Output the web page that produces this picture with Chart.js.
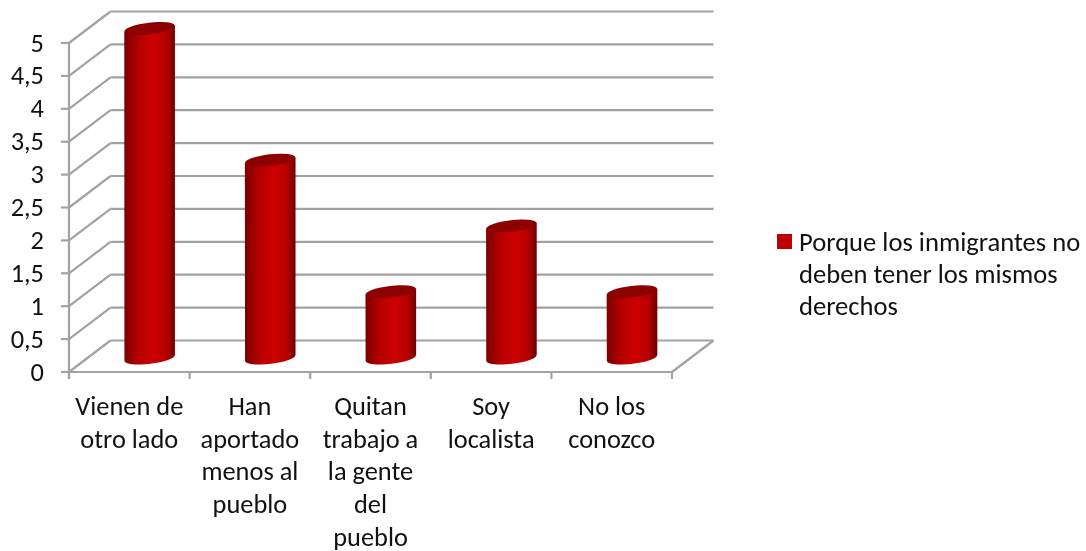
<!DOCTYPE html>
<html><head><meta charset="utf-8">
<style>html,body{margin:0;padding:0;background:#fff}#w{position:relative;width:1086px;height:551px}</style>
<script src="https://cdn.jsdelivr.net/npm/chart.js@4/dist/chart.umd.min.js"></script>
</head><body><div id="w"><canvas id="c" width="1086" height="551"></canvas></div>
<script>
const categories=[["Vienen de","otro lado"],["Han","aportado","menos al","pueblo"],["Quitan","trabajo a","la gente","del","pueblo"],["Soy","localista"],["No los","conozco"]];
const values=[5,3,1,2,1];
const seriesName="Porque los inmigrantes no deben tener los mismos derechos";
const legendLines=["Porque los inmigrantes no","deben tener los mismos","derechos"];
const yTicks=[0,0.5,1,1.5,2,2.5,3,3.5,4,4.5,5];
const FONT='Carlito, Lato, sans-serif';
const FS=26.4;
const DX=41.5,DY=-31.5,GRID='#a2a2a2';
const wall={id:'wall',beforeDatasetsDraw(ch){
  const c=ch.ctx,x=ch.scales.x,y=ch.scales.y,L=ch.chartArea.left,R=ch.chartArea.right,B=y.getPixelForValue(0);
  c.save();c.strokeStyle=GRID;c.lineWidth=2.2;c.lineCap='butt';
  const ln=(a,b,d,e)=>{c.beginPath();c.moveTo(a,b);c.lineTo(d,e);c.stroke();};
  yTicks.forEach(v=>{const p=y.getPixelForValue(v);
    ln(L-8,p,L,p);ln(L,p,L+DX,p+DY);ln(L+DX,p+DY,R+DX,p+DY);});
  ln(L,y.getPixelForValue(5),L,B+7);ln(L,B,R,B);ln(R,B,R+DX,B+DY);
  for(let i=0;i<=categories.length;i++){const t=L+(R-L)*i/categories.length;ln(t,B,t,B+7);}
  c.restore();
}};
const cyl={id:'cyl',afterDatasetsDraw(ch){
  const c=ch.ctx,m=ch.getDatasetMeta(0);
  m.data.forEach(b=>{
    const cx=b.x+20.3,r=b.width/2,tilt=-0.115,ry=5.8;
    const ty=b.y-14.5,by=b.base-14;
    const dy=Math.sin(tilt)*r;
    c.save();
    const g=c.createLinearGradient(cx-r,0,cx+r,0);
    g.addColorStop(0,'#7c0000');g.addColorStop(.3,'#b80000');g.addColorStop(.58,'#cc0000');g.addColorStop(.82,'#b80000');g.addColorStop(1,'#700000');
    c.fillStyle=g;c.beginPath();
    c.moveTo(cx-r,ty-dy);c.lineTo(cx+r,ty+dy);c.lineTo(cx+r,by+dy);
    c.ellipse(cx,by,r,ry,tilt,0,Math.PI,false);
    c.closePath();c.fill();
    c.fillStyle='#8c0000';c.beginPath();c.ellipse(cx,ty,r,ry,tilt,0,Math.PI*2);c.fill();
    c.restore();
  });
  c.save();c.fillStyle='#c00000';c.fillRect(777,234,15,15);
  c.fillStyle='#111';c.font='26.6px '+FONT;c.textAlign='left';c.textBaseline='middle';
  legendLines.forEach((t,i)=>c.fillText(t,799,244+i*32.3));
  c.restore();
}};
new Chart(document.getElementById('c'),{type:'bar',
 data:{labels:categories,datasets:[{label:seriesName,data:values,backgroundColor:'rgba(0,0,0,0)',barPercentage:.42,categoryPercentage:1}]},
 plugins:[wall,cyl],
 options:{responsive:false,animation:false,
  layout:{padding:{top:43,right:414,left:0,bottom:0}},
  plugins:{legend:{display:false},tooltip:{enabled:false},title:{display:false}},
  scales:{
   x:{grid:{display:false},border:{display:false},afterFit(s){s.height=179;},
      ticks:{color:'#111',maxRotation:0,minRotation:0,autoSkip:false,padding:12,font:{family:FONT,size:FS,lineHeight:1.238}}},
   y:{min:0,max:5,grid:{display:false},border:{display:false},afterFit(s){s.width=69;},
      afterBuildTicks(s){s.ticks=yTicks.map(v=>({value:v}));},
      ticks:{color:'#111',padding:17,labelOffset:2,autoSkip:false,font:{family:FONT,size:FS},callback:v=>String(v).replace('.',',')}}
  }}});
</script></body></html>
